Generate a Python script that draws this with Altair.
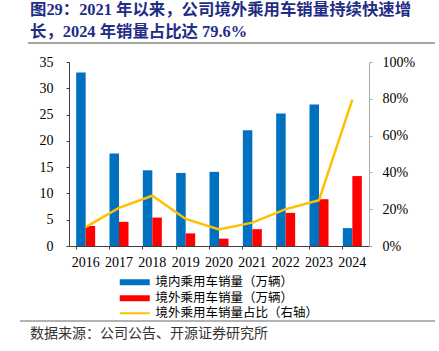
import altair as alt
import pandas as pd

years = ["2016", "2017", "2018", "2019", "2020", "2021", "2022", "2023", "2024"]
domestic = [33.0, 17.6, 14.4, 13.9, 14.1, 22.0, 25.2, 26.9, 3.4]
overseas = [3.8, 4.6, 5.4, 2.4, 1.4, 3.2, 6.3, 8.9, 13.3]
ratio = [10.3, 20.7, 27.3, 14.7, 9.0, 12.7, 20.0, 24.9, 79.6]

s_dom = "境内乘用车销量（万辆）"
s_ovs = "境外乘用车销量（万辆）"
s_ratio = "境外乘用车销量占比（右轴）"

title1 = "图29：2021 年以来，公司境外乘用车销量持续快速增"
title2 = "长，2024 年销量占比达 79.6%"
source = "数据来源：公司公告、开源证券研究所"

left_ticks = [0, 5, 10, 15, 20, 25, 30, 35]
right_ticks = [0, 20, 40, 60, 80, 100]

FONT = "Liberation Serif, Noto Sans CJK SC"
CJK = "Noto Sans CJK SC"

bar_df = pd.DataFrame({
    "year": years * 2,
    "series": [s_dom] * len(years) + [s_ovs] * len(years),
    "value": domestic + overseas,
})
line_df = pd.DataFrame({"year": years, "ratio": ratio, "series": [s_ratio] * len(years)})

xscale = alt.Scale(domain=years, paddingInner=0.43, paddingOuter=0.215)
xaxis = alt.Axis(title=None, labelAngle=0, labelFont=FONT, labelFontSize=14, labelColor="#000",
                 domainColor="#404040", tickColor="#404040", tickSize=3, bandPosition=0,
                 labelPadding=6)

legend_common = dict(title=None, orient="none", legendX=59.5, labelOffset=14.5, labelFont=CJK,
                     labelFontSize=12.5, labelColor="#000", padding=0, rowPadding=3, labelLimit=400,
                     symbolSize=100)

bars = alt.Chart(bar_df).mark_bar().encode(
    x=alt.X("year:N", scale=xscale, axis=xaxis),
    xOffset=alt.XOffset("series:N", scale=alt.Scale(domain=[s_dom, s_ovs], paddingInner=0, paddingOuter=0)),
    y=alt.Y("value:Q", scale=alt.Scale(domain=[0, 35], nice=False),
            axis=alt.Axis(title=None, values=left_ticks, grid=False, labelFont=FONT, labelFontSize=14,
                          labelColor="#000", domainColor="#404040", tickColor="#404040", tickSize=3,
                          labelPadding=13)),
    fill=alt.Fill("series:N", scale=alt.Scale(domain=[s_dom, s_ovs], range=["#0070C0", "#FF0000"]),
                  legend=alt.Legend(legendY=214, symbolType="M-3,-0.6H3V0.6H-3Z",
                                    symbolStrokeWidth=0, **legend_common)),
)

line = alt.Chart(line_df).mark_line(strokeWidth=2.5).encode(
    x=alt.X("year:N", scale=xscale),
    y=alt.Y("ratio:Q", scale=alt.Scale(domain=[0, 100], nice=False),
            axis=alt.Axis(title=None, orient="right", values=right_ticks, grid=False,
                          labelExpr="datum.value + '%'", labelFont=FONT, labelFontSize=14,
                          labelColor="#000", domainColor="#AAAAAA", tickColor="#AAAAAA", tickSize=3,
                          labelPadding=10)),
    stroke=alt.Stroke("series:N", scale=alt.Scale(domain=[s_ratio], range=["#FFC000"]),
                      legend=alt.Legend(legendY=245, symbolType="M-3,0H3", symbolStrokeWidth=2,
                                        **legend_common)),
)

def text_layer(txt, x, y, size, weight="normal", color="#000", font=CJK):
    return alt.Chart(pd.DataFrame({"t": [txt]})).mark_text(
        align="left", baseline="alphabetic", fontSize=size, fontWeight=weight, color=color, font=font
    ).encode(text="t:N", x=alt.value(x), y=alt.value(y))

t1 = text_layer(title1, -39, -47.5, 16.4, "bold", "#1F2D86", FONT)
t2 = text_layer(title2, -39, -25, 16.4, "bold", "#1F2D86", FONT)
src = text_layer(source, -39, 276, 14, "normal", "#333333", CJK)

rule_df = pd.DataFrame({"k": [0]})
rule_top = alt.Chart(rule_df).mark_rule(color="#888888", strokeWidth=1.5).encode(
    x=alt.value(-41), x2=alt.value(366), y=alt.value(-19))
rule_bot = alt.Chart(rule_df).mark_rule(color="#666666", strokeWidth=1.2).encode(
    x=alt.value(-49), x2=alt.value(366), y=alt.value(259))

chart = alt.layer(bars, line, t1, t2, src, rule_top, rule_bot).resolve_scale(
    y="independent"
).properties(
    width=300, height=184, autosize="none",
    padding={"left": 69, "top": 62, "right": 70, "bottom": 105},
    background="white",
).configure_view(stroke=None)

chart.save("out.html", embed_options={"renderer": "svg", "actions": False})
